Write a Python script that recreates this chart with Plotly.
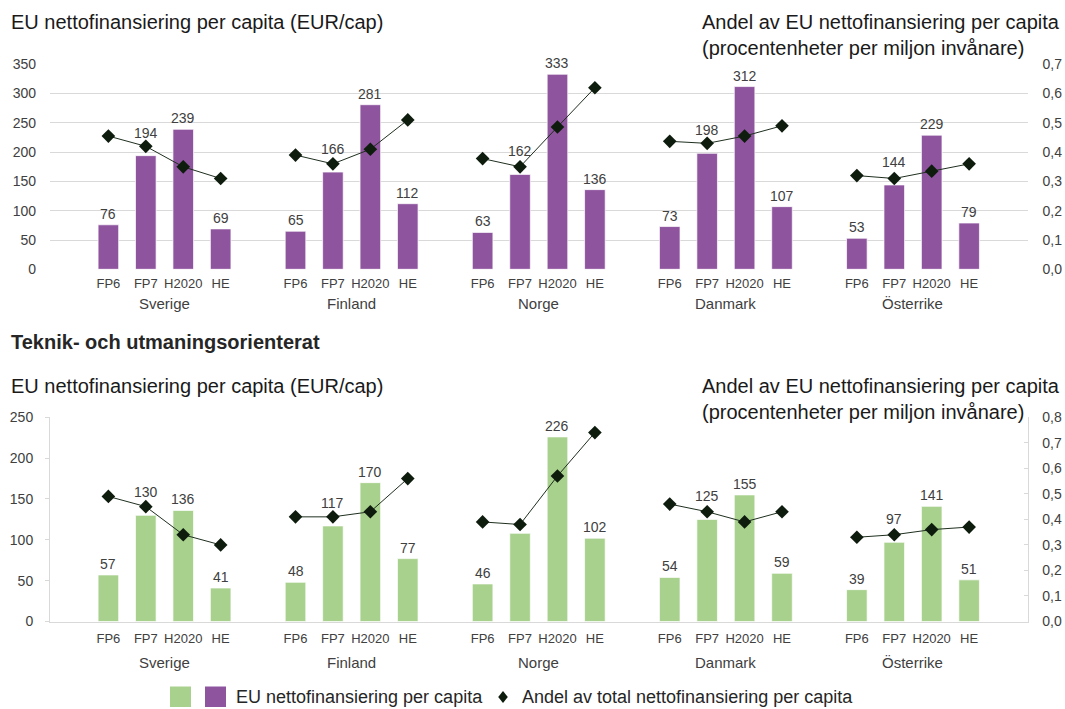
import plotly.graph_objects as go
from plotly.subplots import make_subplots

W, H = 1065, 709

countries = ["Sverige", "Finland", "Norge", "Danmark", "Österrike"]
programmes = ["FP6", "FP7", "H2020", "HE"]

# top panel: all programmes, EUR per capita (bars) and share (diamonds)
all_eur = [
    [76, 194, 239, 69],
    [65, 166, 281, 112],
    [63, 162, 333, 136],
    [73, 198, 312, 107],
    [53, 144, 229, 79],
]
all_share = [
    [0.455, 0.42, 0.35, 0.31],
    [0.39, 0.36, 0.41, 0.51],
    [0.378, 0.35, 0.486, 0.62],
    [0.437, 0.43, 0.455, 0.49],
    [0.32, 0.31, 0.335, 0.36],
]

# bottom panel: Teknik- och utmaningsorienterat
tech_eur = [
    [57, 130, 136, 41],
    [48, 117, 170, 77],
    [46, 108, 226, 102],
    [54, 125, 155, 59],
    [39, 97, 141, 51],
]
tech_share = [
    [0.49, 0.45, 0.34, 0.30],
    [0.41, 0.41, 0.43, 0.56],
    [0.39, 0.38, 0.57, 0.74],
    [0.46, 0.43, 0.39, 0.43],
    [0.33, 0.34, 0.36, 0.37],
]
# the label of this bar is not shown in the original chart
tech_hidden_labels = [("Norge", "FP7")]
# FP7 labels sit higher, clear of the diamonds
raised_label = "FP7"

left_title = "EU nettofinansiering per capita (EUR/cap)"
right_title = "Andel av EU nettofinansiering per capita<br>(procentenheter per miljon invånare)"
section_title = "Teknik- och utmaningsorienterat"
legend_bar = "EU nettofinansiering per capita"
legend_line = "Andel av total nettofinansiering per capita"

PURPLE = "#8E549E"
GREEN = "#A9D18E"
MARK = "#0E1C0E"
GRID = "#D9D9D9"
TXT = "#404040"
FONT = "Liberation Sans, Arial, sans-serif"
SLOT = 5  # four bars + one empty slot per country


def px_x(x):
    return x / W


def px_y(y):
    return 1 - y / H


def bar_x():
    return [g * SLOT + i for g in range(len(countries)) for i in range(len(programmes))]


def flat(rows):
    return [v for row in rows for v in row]


def line_xy(rows):
    xs, ys = [], []
    for g, row in enumerate(rows):
        xs += [g * SLOT + i for i in range(len(row))] + [None]
        ys += list(row) + [None]
    return xs, ys


fig = make_subplots(rows=2, cols=1, specs=[[{"secondary_y": True}], [{"secondary_y": True}]])

annotations = []
panels = [
    (1, "x", "y", all_eur, all_share, PURPLE, ()),
    (2, "x2", "y3", tech_eur, tech_share, GREEN, tech_hidden_labels),
]
for row, xref, yref, eur, share, color, hidden in panels:
    fig.add_trace(go.Bar(
        x=bar_x(), y=flat(eur), width=0.55,
        marker=dict(color=color, line=dict(color="rgba(255,255,255,0.7)", width=1)),
        showlegend=False, hoverinfo="skip",
    ), row=row, col=1, secondary_y=False)
    lx, ly = line_xy(share)
    fig.add_trace(go.Scatter(
        x=lx, y=ly, mode="lines+markers", connectgaps=False,
        line=dict(color="#1F2F1F", width=1),
        marker=dict(symbol="diamond", size=10.5, color=MARK),
        showlegend=False, cliponaxis=False,
    ), row=row, col=1, secondary_y=True)
    # value labels above the bars
    for g, vals in enumerate(eur):
        for i, v in enumerate(vals):
            if (countries[g], programmes[i]) in hidden:
                continue
            annotations.append(dict(
                text=str(v), x=g * SLOT + i, y=v, xref=xref, yref=yref, showarrow=False,
                yanchor="middle", yshift=23 if programmes[i] == raised_label else 11,
                font=dict(size=14, color=TXT),
            ))

xr = [-1.56, (len(countries) - 1) * SLOT + 3 + 1.56]
xdom = [px_x(50), px_x(1027.5)]
common_x = dict(
    range=xr, domain=xdom, tickmode="array", tickvals=bar_x(),
    ticktext=programmes * len(countries), showgrid=False, zeroline=False,
    ticks="", ticklabelstandoff=5, tickfont=dict(size=13, color=TXT), automargin=False,
)
fig.update_layout(
    xaxis=dict(common_x, showline=False),
    xaxis2=dict(common_x, showline=True, linecolor=GRID, linewidth=1),
    yaxis=dict(domain=[px_y(269.3), px_y(64.3)], range=[0, 350], dtick=50,
               showgrid=True, gridcolor=GRID, gridwidth=1, zeroline=False, showline=False,
               ticks="", ticklabelstandoff=13, tickfont=dict(size=14, color=TXT), automargin=False),
    yaxis2=dict(range=[0, 0.7], dtick=0.1, tickformat=".1f", showgrid=False, zeroline=False,
                showline=False, ticks="", ticklabelstandoff=14,
                tickfont=dict(size=14, color=TXT), automargin=False),
    yaxis3=dict(domain=[px_y(621.5), px_y(417.3)], range=[0, 250], dtick=50,
                showgrid=False, zeroline=False, showline=True, linecolor=GRID, linewidth=1,
                ticks="outside", ticklen=4, tickcolor=GRID, ticklabelstandoff=9,
                tickfont=dict(size=14, color=TXT), automargin=False),
    yaxis4=dict(range=[0, 0.8], dtick=0.1, tickformat=".1f", showgrid=False, zeroline=False,
                showline=True, linecolor=GRID, linewidth=1,
                ticks="inside", ticklen=4, tickcolor=GRID, ticklabelstandoff=11,
                tickfont=dict(size=14, color=TXT), automargin=False),
)

# country names under each group
for xref, ypx in (("x", 303), ("x2", 662)):
    for g, c in enumerate(countries):
        annotations.append(dict(
            text=c, x=g * SLOT + 1.5, xref=xref, y=px_y(ypx), yref="paper",
            showarrow=False, font=dict(size=15, color=TXT), xanchor="center", yanchor="middle",
        ))

title_font = dict(size=20, color="#1A1A1A", family=FONT)
for ypx in (22, 386):
    annotations.append(dict(text=left_title, x=px_x(9), y=px_y(ypx), xref="paper", yref="paper",
                            xanchor="left", yanchor="middle", showarrow=False, font=title_font))
    annotations.append(dict(text=right_title, x=px_x(700), y=px_y(ypx - 13), xref="paper", yref="paper",
                            xanchor="left", yanchor="top", align="left", showarrow=False, font=title_font))
annotations.append(dict(text="<b>" + section_title + "</b>", x=px_x(9), y=px_y(342), xref="paper",
                        yref="paper", xanchor="left", yanchor="middle", showarrow=False,
                        font=dict(size=20, color="#262626", family=FONT)))

# legend drawn by hand: two swatches share one label
legend_font = dict(size=18, color="#262626", family=FONT)
annotations.append(dict(text=legend_bar, x=px_x(234), y=px_y(697), xref="paper", yref="paper",
                        xanchor="left", yanchor="middle", showarrow=False, font=legend_font))
annotations.append(dict(text=legend_line, x=px_x(520), y=px_y(697), xref="paper", yref="paper",
                        xanchor="left", yanchor="middle", showarrow=False, font=legend_font))

shapes = []
for x0, col in ((170, GREEN), (205, PURPLE)):
    shapes.append(dict(type="rect", xref="paper", yref="paper", x0=px_x(x0), x1=px_x(x0 + 21),
                       y0=px_y(707), y1=px_y(686.5), fillcolor=col, line=dict(width=0)))
cx, cy, r = 503, 697, 6
shapes.append(dict(type="path", xref="paper", yref="paper", fillcolor=MARK, line=dict(width=0),
                   path=f"M {px_x(cx)},{px_y(cy - r)} L {px_x(cx + r * 0.8)},{px_y(cy)} "
                        f"L {px_x(cx)},{px_y(cy + r)} L {px_x(cx - r * 0.8)},{px_y(cy)} Z"))

fig.update_layout(
    width=W, height=H, margin=dict(l=0, r=0, t=0, b=0),
    template="none", paper_bgcolor="white", plot_bgcolor="white",
    font=dict(family=FONT, color=TXT), separators=", ",
    showlegend=False, annotations=annotations, shapes=shapes,
)

# drop the default page margin so the figure sits at the window's top-left corner
fig.write_html("out.html", config={"displayModeBar": False},
               post_script="document.body.style.margin = '0';")
